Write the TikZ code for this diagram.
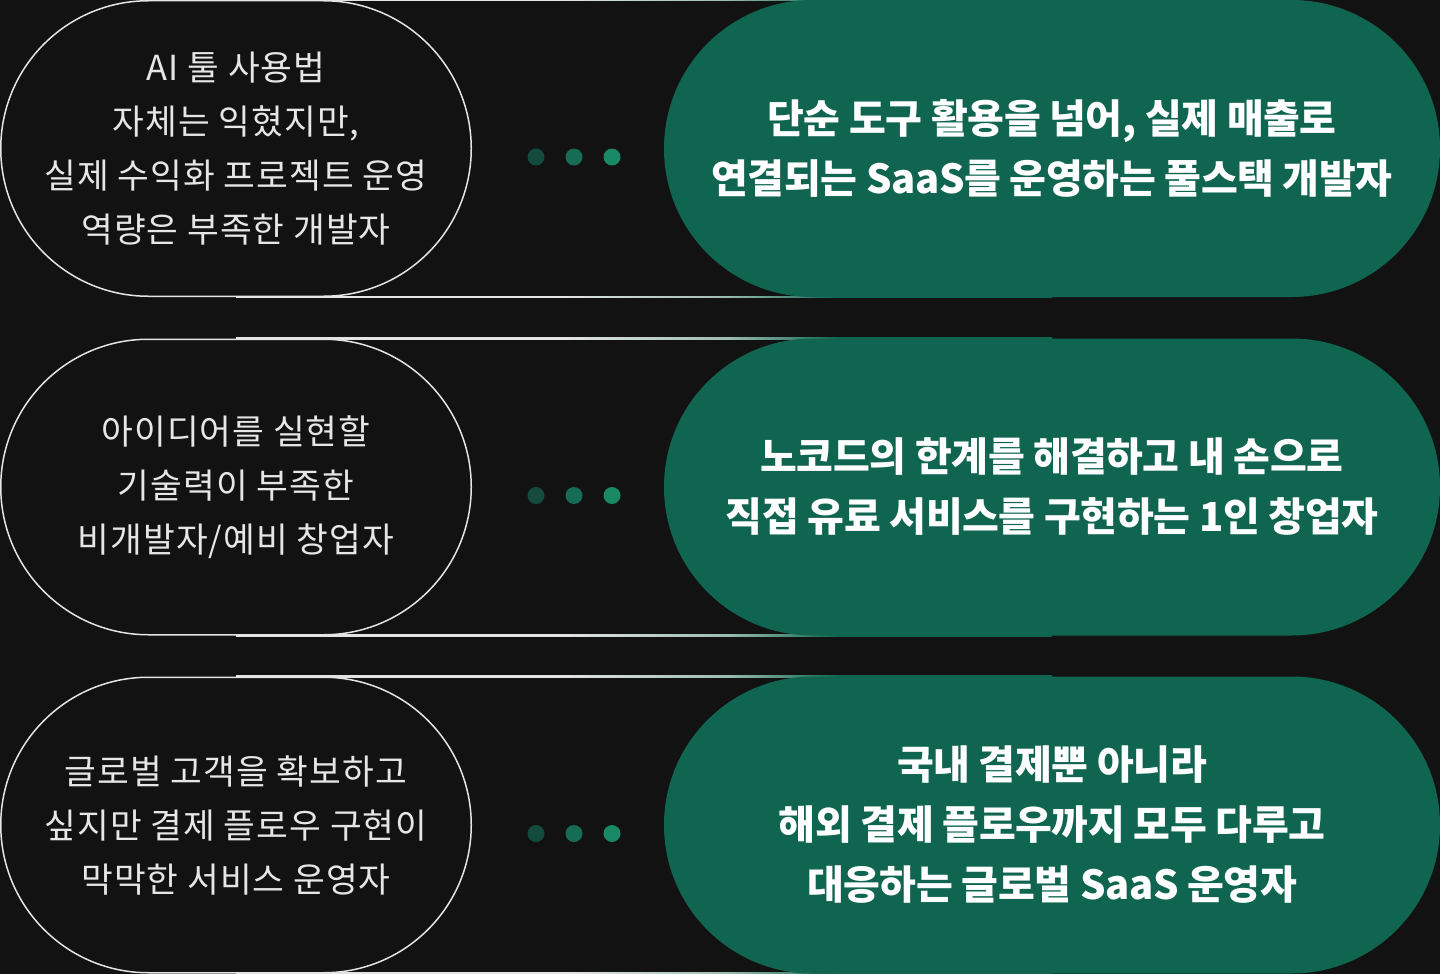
\documentclass[tikz,border=0pt]{standalone}
\usepackage{fontspec}
\newfontfamily\krfont[LetterSpace=3]{Noto Sans CJK KR}
\newfontfamily\krbold[LetterSpace=-1]{Noto Sans CJK KR}

\definecolor{bg}{HTML}{121212}
\definecolor{rimgrey}{HTML}{E4E4E4}
\definecolor{rimmid}{HTML}{9DBDB0}
\definecolor{goalgreen}{HTML}{0F6550}
\definecolor{needtext}{HTML}{E6E6E6}
\definecolor{dotA}{HTML}{144B3C}
\definecolor{dotB}{HTML}{166C54}
\definecolor{dotC}{HTML}{188865}

\pgfdeclarehorizontalshading{rimfade}{100bp}{color(0bp)=(rimgrey); color(25bp)=(rimgrey);
  color(45bp)=(rimgrey); color(55bp)=(rimmid); color(62bp)=(goalgreen); color(100bp)=(goalgreen)}

\begin{document}
\begin{tikzpicture}[x=1pt,y=-1pt,
  needbox/.style={draw=rimgrey, line width=1.5pt, rounded corners=147.7pt, minimum width=470.5pt,
    minimum height=295.5pt, inner sep=0pt, align=center, text=needtext,
    font=\krfont\fontsize{34.5}{54}\selectfont},
  goalbox/.style={fill=goalgreen, rounded corners=148.4pt, minimum width=776pt, minimum height=297pt,
    inner sep=0pt, align=center, text=white, font=\krbold\bfseries\fontsize{40}{60}\selectfont},
  dot/.style={circle, minimum size=17pt, inner sep=0pt}]

\useasboundingbox[fill=bg] (0,0) rectangle (1440,974);

% row 1
\node[needbox] (need1) at (236,148.5) {AI 툴 사용법\\자체는 익혔지만,\\실제 수익화 프로젝트 운영\\역량은 부족한 개발자};
\shade[shading=rimfade] ([yshift=.75pt]need1.north) rectangle ([yshift=-.75pt]need1.north -| 1052,0);
\shade[shading=rimfade] ([yshift=.75pt]need1.south) rectangle ([yshift=-.75pt]need1.south -| 1052,0);
\node[goalbox] (goal1) at (1052,148.5) {단순 도구 활용을 넘어, 실제 매출로\\연결되는 SaaS를 운영하는 풀스택 개발자};
\node[dot, fill=dotA] (dot1a) at (536,157) {};
\node[dot, fill=dotB] (dot1b) at (574,157) {};
\node[dot, fill=dotC] (dot1c) at (612,157) {};

% row 2
\node[needbox] (need2) at (236,487) {아이디어를 실현할\\기술력이 부족한\\비개발자/예비 창업자};
\shade[shading=rimfade] ([yshift=.75pt]need2.north) rectangle ([yshift=-.75pt]need2.north -| 1052,0);
\shade[shading=rimfade] ([yshift=.75pt]need2.south) rectangle ([yshift=-.75pt]need2.south -| 1052,0);
\node[goalbox] (goal2) at (1052,487) {노코드의 한계를 해결하고 내 손으로\\직접 유료 서비스를 구현하는 1인 창업자};
\node[dot, fill=dotA] (dot2a) at (536,495.5) {};
\node[dot, fill=dotB] (dot2b) at (574,495.5) {};
\node[dot, fill=dotC] (dot2c) at (612,495.5) {};

% row 3
\node[needbox] (need3) at (236,825) {글로벌 고객을 확보하고\\싶지만 결제 플로우 구현이\\막막한 서비스 운영자};
\shade[shading=rimfade] ([yshift=.75pt]need3.north) rectangle ([yshift=-.75pt]need3.north -| 1052,0);
\shade[shading=rimfade] ([yshift=.75pt]need3.south) rectangle ([yshift=-.75pt]need3.south -| 1052,0);
\node[goalbox] (goal3) at (1052,825) {국내 결제뿐 아니라\\해외 결제 플로우까지 모두 다루고\\대응하는 글로벌 SaaS 운영자};
\node[dot, fill=dotA] (dot3a) at (536,833.5) {};
\node[dot, fill=dotB] (dot3b) at (574,833.5) {};
\node[dot, fill=dotC] (dot3c) at (612,833.5) {};

\end{tikzpicture}
\end{document}
